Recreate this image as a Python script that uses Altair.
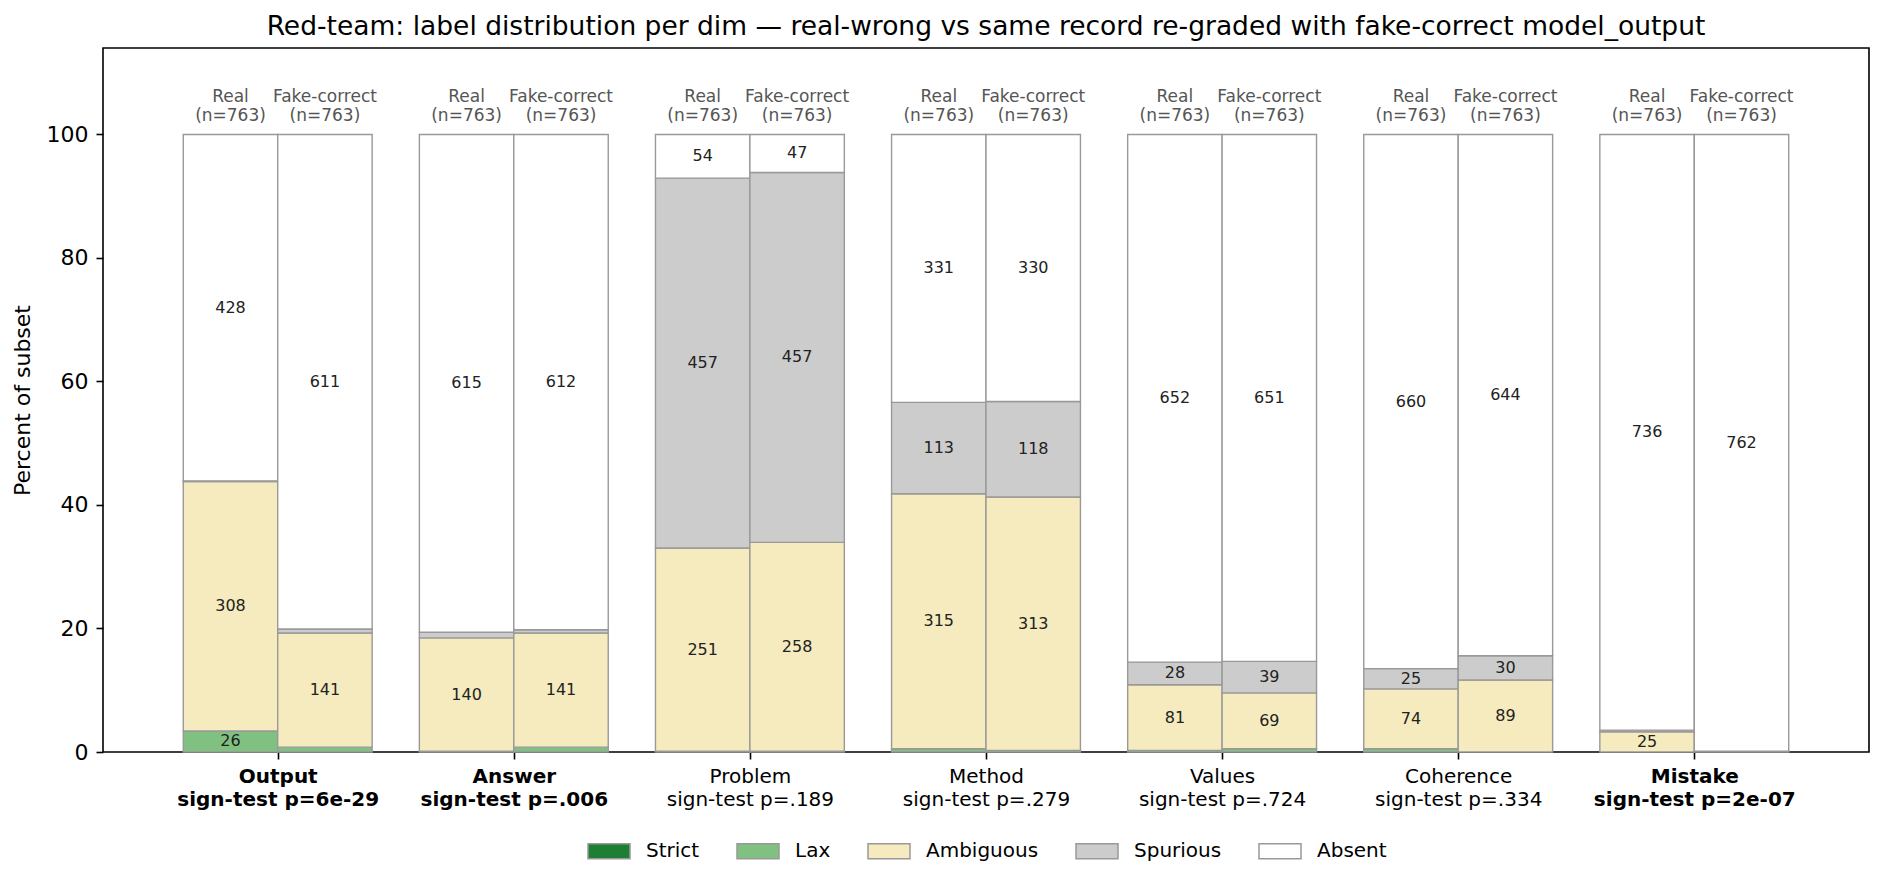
import altair as alt
import pandas as pd

# dims on the x axis and their sign-test p-values
dims = ["Output", "Answer", "Problem", "Method", "Values", "Coherence", "Mistake"]
pvals = ["6e-29", ".006", ".189", ".279", ".724", ".334", "2e-07"]
significant = [True, True, False, False, False, False, True]

categories = ["Strict", "Lax", "Ambiguous", "Spurious", "Absent"]
colors = ["#1e7e34", "#80c080", "#f5ebbe", "#cccccc", "#ffffff"]

# counts per label, real-wrong records
real_strict = [0, 0, 0, 0, 0, 0, 0]
real_lax = [26, 1, 1, 4, 2, 4, 0]
real_amb = [308, 140, 251, 315, 81, 74, 25]
real_spur = [1, 7, 457, 113, 28, 25, 2]
real_absent = [428, 615, 54, 331, 652, 660, 736]

# counts per label, same records re-graded with fake-correct output
fake_strict = [0, 0, 0, 0, 0, 0, 0]
fake_lax = [6, 6, 1, 2, 4, 0, 0]
fake_amb = [141, 141, 258, 313, 69, 89, 1]
fake_spur = [5, 4, 457, 118, 39, 30, 0]
fake_absent = [611, 612, 47, 330, 651, 644, 762]

bar_width = 0.4

segs = []
heads = []
for i, dim in enumerate(dims):
    for k, (cond, counts) in enumerate([
        ("Real", [real_strict, real_lax, real_amb, real_spur, real_absent]),
        ("Fake-correct", [fake_strict, fake_lax, fake_amb, fake_spur, fake_absent]),
    ]):
        center = i + (k - 0.5) * bar_width
        n = sum(c[i] for c in counts)
        bottom = 0.0
        for cat, col in zip(categories, counts):
            pct = col[i] / n * 100
            if col[i] > 0:
                segs.append({
                    "dim": dim, "cond": cond, "cat": cat, "count": col[i],
                    "x0": center - bar_width / 2, "x1": center + bar_width / 2,
                    "xc": center, "y0": bottom, "y1": bottom + pct,
                    "ym": bottom + pct / 2, "pct": pct,
                })
            bottom += pct
        heads.append({"xc": center, "y": 104.6, "label": f"{cond}\n(n={n})"})

seg_df = pd.DataFrame(segs)
head_df = pd.DataFrame(heads)

label_expr = "[" + ",".join(
    f"['{d}','sign-test p={p}']" for d, p in zip(dims, pvals)
) + "][datum.value]"
bold_idx = [i for i, s in enumerate(significant) if s]
bold_test = "indexof(" + str(bold_idx) + ", datum.value) >= 0"

x_scale = alt.Scale(domain=[-0.74, 6.74], nice=False, zero=False)
y_scale = alt.Scale(domain=[0, 114], nice=False)

bars = alt.Chart(seg_df).mark_bar(
    stroke="#999999", strokeWidth=1.4
).encode(
    x=alt.X("x0:Q", scale=x_scale,
            axis=alt.Axis(values=list(range(len(dims))), labelExpr=label_expr,
                          labelFontWeight={"condition": {"test": bold_test, "value": "bold"},
                                           "value": "normal"},
                          title=None, grid=False, domain=False, tickSize=7,
                          tickWidth=1.6, tickColor="black", labelPadding=7,
                          labelFontSize=20, labelLineHeight=23, labelColor="black",
                          labelOverlap=False, labelBound=False, labelFlush=False,
                          labelLimit=0)),
    x2="x1:Q",
    y=alt.Y("y0:Q", scale=y_scale,
            axis=alt.Axis(values=[0, 20, 40, 60, 80, 100], title="Percent of subset",
                          grid=False, domain=False, tickSize=7, tickWidth=1.6,
                          tickColor="black", labelFontSize=22, labelColor="black",
                          labelPadding=8, titleFontSize=22, titleFontWeight="normal",
                          titleColor="black", titlePadding=12)),
    y2="y1:Q",
    fill=alt.Fill("cat:N", scale=alt.Scale(domain=categories, range=colors),
                  legend=alt.Legend(orient="none", legendX=484, legendY=781,
                                    direction="horizontal", title=None,
                                    symbolType="M-1,-0.36H1V0.36H-1Z", symbolSize=1764,
                                    symbolStrokeColor="#999999", symbolStrokeWidth=1.5,
                                    labelFontSize=20, labelColor="black",
                                    labelOffset=15, columnPadding=34)),
)

counts_text = alt.Chart(seg_df).transform_filter(
    "datum.pct >= 3"
).mark_text(fontSize=16, color="#222222", baseline="middle").encode(
    x=alt.X("xc:Q", scale=x_scale),
    y=alt.Y("ym:Q", scale=y_scale),
    text="count:Q",
)

head_text = alt.Chart(head_df).mark_text(
    fontSize=17, color="#555555", baseline="bottom", lineBreak="\n", lineHeight=19
).encode(
    x=alt.X("xc:Q", scale=x_scale),
    y=alt.Y("y:Q", scale=y_scale),
    text="label:N",
)

chart = alt.layer(bars, counts_text, head_text).properties(
    width=1766,
    height=704,
    autosize=alt.AutoSizeParams(type="none"),
    padding={"left": 95, "top": 40, "right": 9, "bottom": 128},
    title=alt.TitleParams(
        "Red-team: label distribution per dim \u2014 real-wrong vs same record re-graded with fake-correct model_output",
        fontSize=26.5, fontWeight="normal", color="black", anchor="middle", offset=8),
).configure(
    font="DejaVu Sans"
).configure_view(
    stroke="black", strokeWidth=1.6
)

chart.save("out.html", embed_options={"renderer": "svg", "actions": False})
